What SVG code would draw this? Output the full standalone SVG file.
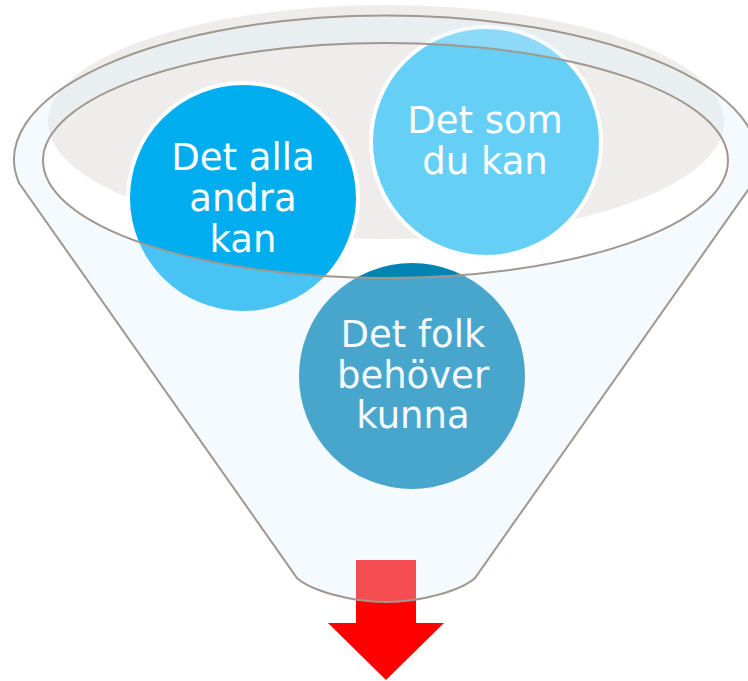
<svg xmlns="http://www.w3.org/2000/svg" width="748" height="681" viewBox="0 0 748 681">
<style>
.lbl{font-family:"DejaVu Sans","Verdana",sans-serif;font-size:37px;fill:#ffffff;text-anchor:middle}
.ring{stroke:#ffffff;stroke-width:4}
.edge{fill:none;stroke:#a0978f;stroke-width:2}
</style>
<rect width="748" height="681" fill="#ffffff"/>
<ellipse id="shadow" cx="386" cy="122" rx="338" ry="117" fill="#eeedeb"/>
<g id="connectors">
<polygon points="356,560 416,560 416,623 444,623 386,680 328,623 356,623" fill="#ff0000"/>
</g>
<g id="node-alla">
<circle class="ring" cx="243" cy="198" r="115" fill="#00aeef"/>
<text class="lbl" x="243" y="170">Det alla</text>
<text class="lbl" x="243" y="211">andra</text>
<text class="lbl" x="243" y="252">kan</text>
</g>
<g id="node-du">
<circle class="ring" cx="486" cy="142" r="115" fill="#66cff5"/>
<text class="lbl" x="485" y="133">Det som</text>
<text class="lbl" x="485" y="174">du kan</text>
</g>
<g id="node-folk">
<circle class="ring" cx="412" cy="376" r="115" fill="#0084b4"/>
<text class="lbl" x="413" y="347">Det folk</text>
<text class="lbl" x="413" y="388">behöver</text>
<text class="lbl" x="413" y="428">kunna</text>
</g>
<g id="funnel">
<path fill="#dff0ff" fill-opacity="0.32" fill-rule="evenodd" d="M19,183 A372,144 0 1 1 753,183 L475,578 C462,590 422,602 386,602 C350,602 310,590 297,578 Z M43,160.5 A342.5,117.5 0 0 0 728,160.5 A342.5,117.5 0 0 0 43,160.5 Z"/>
<path class="edge" d="M19,183 A372,144 0 1 1 753,183 L475,578 C462,590 422,602 386,602 C350,602 310,590 297,578 Z"/>
<ellipse class="edge" cx="385.5" cy="160.5" rx="342.5" ry="117.5"/>
</g>
</svg>
